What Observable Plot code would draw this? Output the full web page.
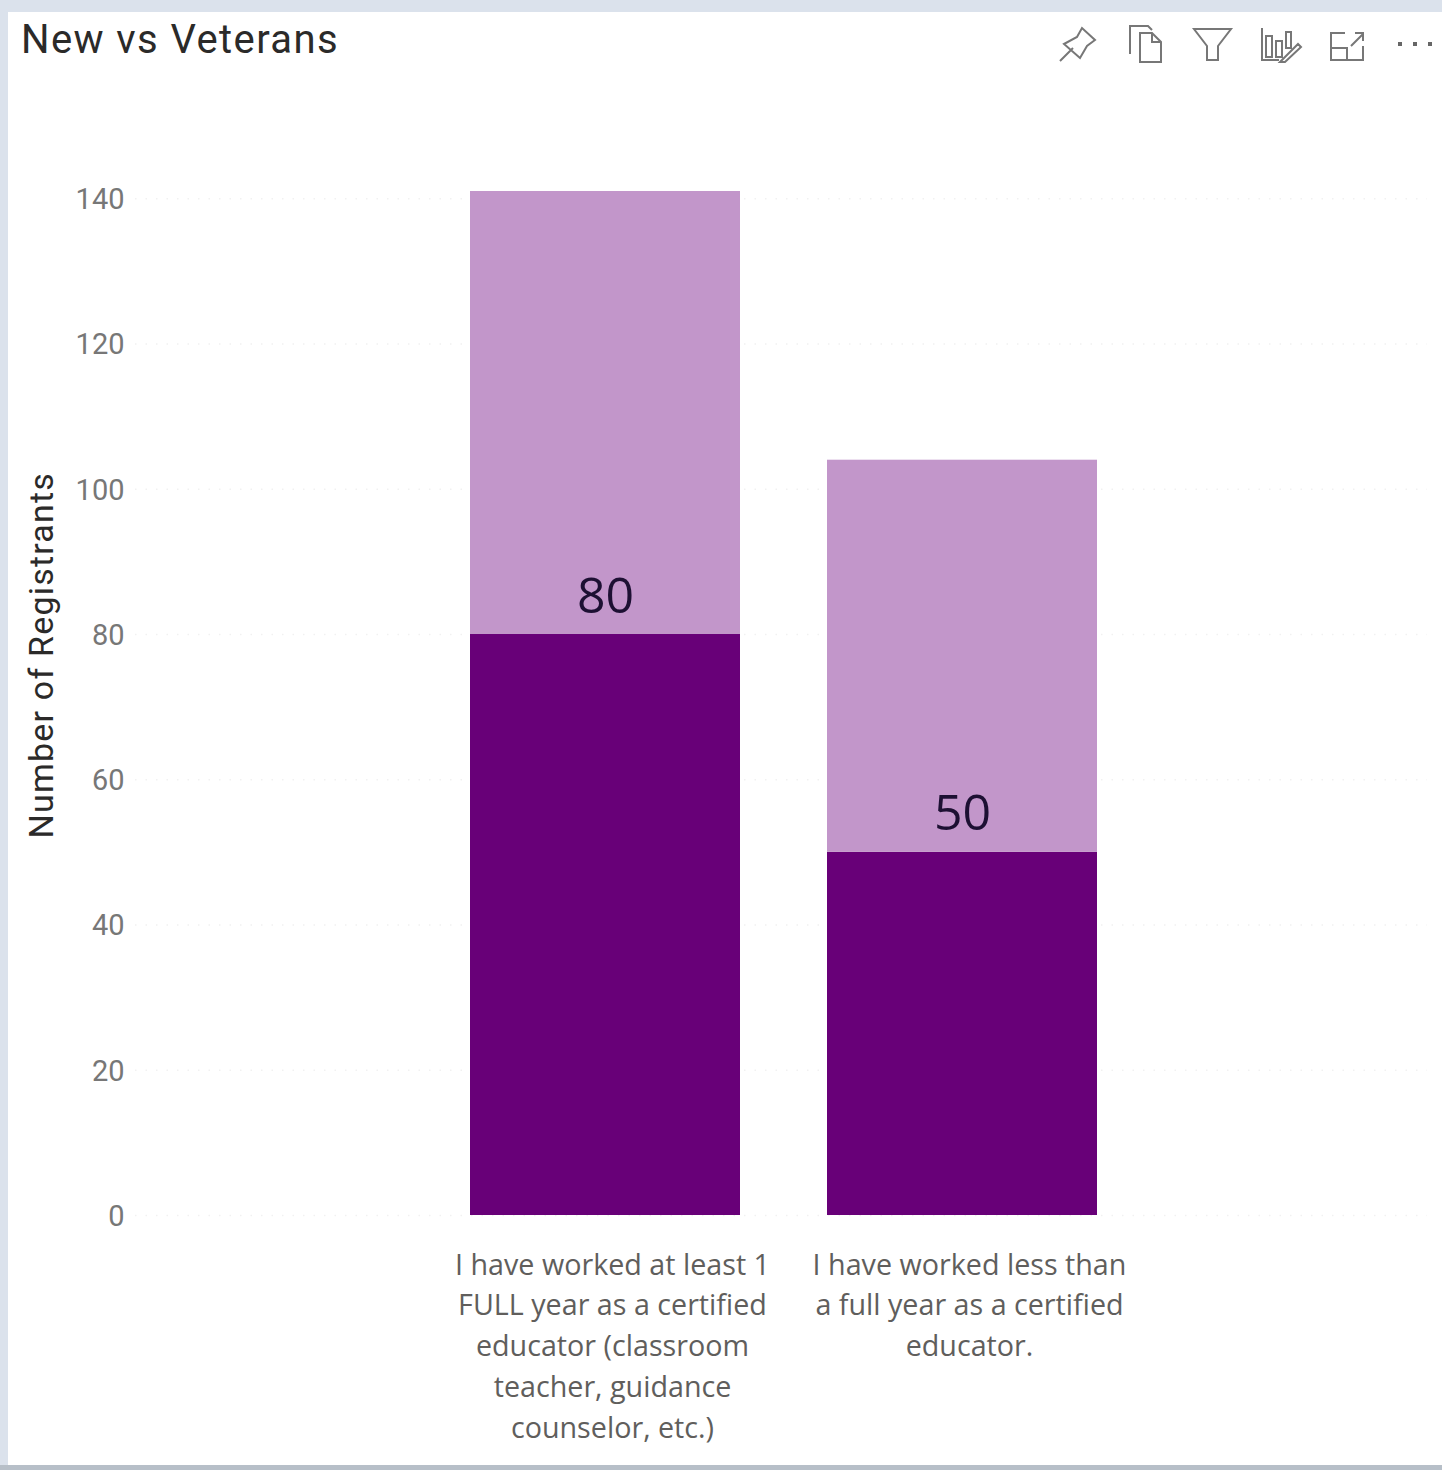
<!DOCTYPE html>
<html>
<head>
<meta charset="utf-8">
<style>
  html, body { margin: 0; padding: 0; background: #dbe2ec; }
  #card { position: absolute; left: 8px; top: 12px; width: 1434px; height: 1453px; background: #fff; }
  #foot { position: absolute; left: 0; top: 1465px; width: 1442px; height: 5px; background: #b7bfc8; }
  #chart { position: absolute; left: 0; top: 0; }
  #title { position: absolute; left: 21px; top: 15px; font: 400 40px/50px Roboto, sans-serif; color: #2b2a29; letter-spacing: 1.4px; white-space: nowrap; }
  #tools { position: absolute; left: 1040px; top: 0; }
  .axis-title { letter-spacing: 1.2px; }
</style>
<script src="https://cdn.jsdelivr.net/npm/d3@7"></script>
<script src="https://cdn.jsdelivr.net/npm/@observablehq/plot@0.6"></script>
</head>
<body>
<div id="card"></div>
<div id="foot"></div>
<div id="chart"></div>
<div id="title">New vs Veterans</div>
<svg id="tools" width="402" height="90" viewBox="0 0 402 90" fill="none" stroke="#777" stroke-width="2">
  <path d="M20 61L33 48M24 44L37 37L42 28L55 40L47 46L40 58Z"/>
  <path d="M90 54V26H108L112 30M100 62V33H112L121 42V62ZM112 33V42H121"/>
  <path d="M154 29H191L178 46V60H167V46Z"/>
  <path d="M222 28V60H239M226 36H232V57H226ZM236 41H242V57H236ZM246 32H251V48H246ZM240 62L258 44L261 47L245 62Z"/>
  <path d="M305 33H291V60H323V46M291 48H307V60M311 46L323 34M315 33H323V41"/>
  <path d="M358 44h4M373 44h4M388 44h4" stroke-width="4" stroke="#666"/>
</svg>
<script>
const categories = [
  "I have worked at least 1\nFULL year as a certified\neducator (classroom\nteacher, guidance\ncounselor, etc.)",
  "I have worked less than\na full year as a certified\neducator."
];
const registrants = [80, 50];
const remainder = [61, 54];
const yTicks = [0, 20, 40, 60, 80, 100, 120, 140];
const seriesNames = ["Registrants", "Remainder"];
const seriesColors = ["#680078", "#c296ca"];

const rows = [
  ...categories.map((c, i) => ({category: c, series: seriesNames[0], value: registrants[i]})),
  ...categories.map((c, i) => ({category: c, series: seriesNames[1], value: remainder[i]}))
];
const labels = categories.map((c, i) => ({category: c, value: registrants[i]}));
const bodyFont = "'Open Sans', sans-serif";

const plot = Plot.plot({
  width: 1442,
  height: 1470,
  marginLeft: 470,
  marginRight: 345,
  marginTop: 191,
  marginBottom: 255,
  style: {background: "transparent", overflow: "visible"},
  x: {domain: categories, paddingInner: 0.2437, paddingOuter: 0, axis: null},
  y: {domain: [0, 141], axis: null},
  color: {domain: seriesNames, range: seriesColors},
  marks: [
    Plot.ruleY(yTicks, {insetLeft: -335, insetRight: -330, stroke: "#f1f1f1", strokeWidth: 1.5, strokeDasharray: "1.5 9"}),
    Plot.barY(rows, {x: "category", y: "value", fill: "series", order: null}),
    Plot.axisY({
      ticks: yTicks, tickSize: 0, tickPadding: 0, anchor: "left", dx: -346, dy: 1,
      fontSize: 29, fontFamily: "Roboto, sans-serif", color: "#777", label: null
    }),
    Plot.axisX({
      tickSize: 0, tickPadding: 30, lineAnchor: "top", dx: 7, lineHeight: 1.425,
      fontSize: 28.7, fontFamily: bodyFont, color: "#605e5c", label: null,
      textOverflow: null, lineWidth: Infinity
    }),
    Plot.text(labels, {
      x: "category", y: "value", text: d => String(d.value), dy: -38,
      fontSize: 50, fontFamily: bodyFont, fill: "#1d1033"
    }),
    Plot.text(["Number of Registrants"], {
      frameAnchor: "left", rotate: -90, dx: -428, dy: 135,
      fontSize: 34, fontFamily: "Roboto, sans-serif", fill: "#2b2a29",
      className: "axis-title"
    })
  ]
});
document.getElementById("chart").appendChild(plot);
</script>
</body>
</html>
